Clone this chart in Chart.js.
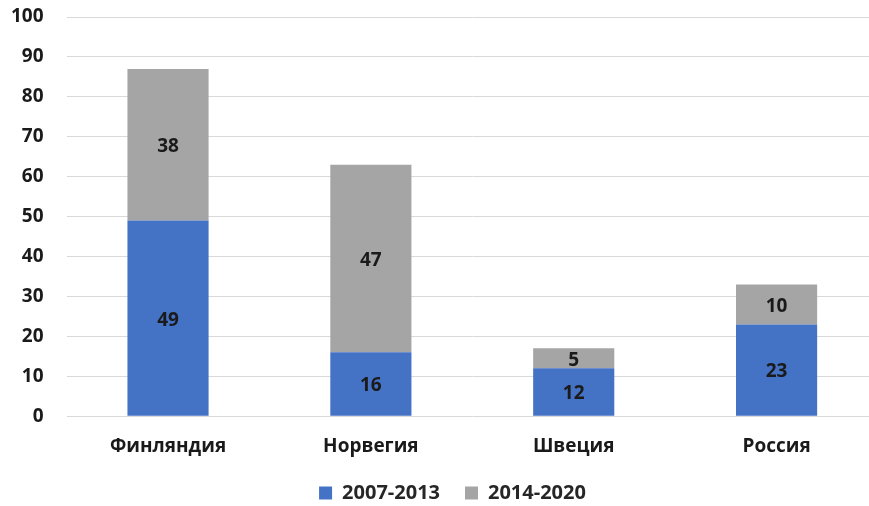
<!DOCTYPE html>
<html><head><meta charset="utf-8">
<script src="https://cdn.jsdelivr.net/npm/chart.js@4"></script>
<style>html,body{margin:0;padding:0;background:#fff;overflow:hidden;width:869px;height:506px;}#wrap{width:906px;height:506px;}</style>
</head><body><div id="wrap"><canvas id="c"></canvas></div>
<script>
const categories = ['Финляндия','Норвегия','Швеция','Россия'];
const series1 = [49,16,12,23];
const series2 = [38,47,5,10];
const seriesNames = ['2007-2013','2014-2020'];
const yTicks = [0,10,20,30,40,50,60,70,80,90,100];

const FONT = 'Open Sans';
const labelPlugin = {
  id:'segLabels',
  afterLayout(chart){
    if (chart.legend){ chart.legend.left += 8; chart.legend.right += 8; }
  },
  afterDatasetsDraw(chart){
    const ctx = chart.ctx;
    ctx.save();
    ctx.font = 'bold 19px "'+FONT+'"';
    ctx.fillStyle = '#1a1a1a';
    ctx.textAlign='center'; ctx.textBaseline='middle';
    chart.data.datasets.forEach((ds,i)=>{
      const meta = chart.getDatasetMeta(i);
      meta.data.forEach((bar,j)=>{
        const v = ds.data[j];
        const y = (bar.y + bar.base)/2;
        ctx.fillText(String(v), bar.x, y+2);
      });
    });
    ctx.restore();
  }
};

new Chart(document.getElementById('c'),{
  type:'bar',
  data:{labels:categories,datasets:[
    {label:seriesNames[0],data:series1,backgroundColor:'#4472C4',barPercentage:0.4,categoryPercentage:1},
    {label:seriesNames[1],data:series2,backgroundColor:'#A5A5A5',barPercentage:0.4,categoryPercentage:1}
  ]},
  options:{
    responsive:true,maintainAspectRatio:false,animation:false,
    layout:{padding:{top:17,right:28,left:11,bottom:-7}},
    plugins:{
      legend:{position:'bottom',labels:{font:{family:FONT,size:20,weight:'bold'},color:'#262626',boxWidth:13,boxHeight:13,padding:25}},
      tooltip:{enabled:false}
    },
    scales:{
      x:{stacked:true,grid:{display:true,color:'rgba(0,0,0,0)',tickColor:'rgba(0,0,0,0)',tickLength:19,drawOnChartArea:false},border:{display:false},
         ticks:{font:{family:FONT,size:19,weight:'bold'},color:'#1a1a1a',padding:0}},
      y:{stacked:true,min:0,max:100,afterBuildTicks(ax){ax.ticks=yTicks.map(v=>({value:v}));},
         grid:{color:'#d9d9d9',lineWidth:1,drawTicks:true,tickLength:23,tickColor:'rgba(0,0,0,0)'},border:{display:false},
         ticks:{font:{family:FONT,size:19,weight:'bold'},color:'#1a1a1a',padding:0}}
    }
  },
  plugins:[labelPlugin]
});
</script></body></html>
